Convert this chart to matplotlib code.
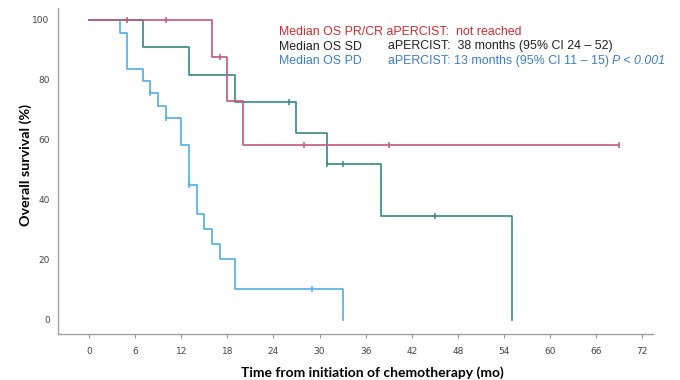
import numpy as np
import matplotlib
matplotlib.use("Agg")
import matplotlib.pyplot as plt

# Kaplan-Meier steps (months, % surviving)
pr_times = [0, 16, 18, 20]
pr_surv = [100, 87.5, 72.9, 58.3]
pr_end = 69
pr_cens = [5, 10, 17, 28, 39, 69]

sd_times = [0, 7, 13, 19, 27, 31, 38, 55]
sd_surv = [100, 90.9, 81.8, 72.7, 62.3, 52.0, 34.7, 0]
sd_end = 55
sd_cens = [26, 31, 33, 45]

pd_times = [0, 4, 5, 7, 8, 9, 10, 12, 13, 14, 15, 16, 17, 19, 33]
pd_surv = [100, 95.5, 83.6, 79.7, 75.6, 71.4, 67.3, 58.4, 45.0, 35.2, 30.2, 25.2, 20.2, 10.3, 0]
pd_end = 33
pd_cens = [8, 10, 13, 29]

xticks = list(range(0, 73, 6))
yticks = [0, 20, 40, 60, 80, 100]

col_pr = "#c4567f"
col_sd = "#348a86"
col_pd = "#4eaeea"

fig = plt.figure(figsize=(6.8, 3.8), dpi=100)
ax = fig.add_axes([0.0853, 0.121, 0.875, 0.858])


def km(times, surv, end, cens, color):
    t = list(times) + [end]
    s = list(surv) + [surv[-1]]
    ax.step(t, s, where="post", color=color, lw=1.2, zorder=3)
    idx = np.searchsorted(times, cens, side="right") - 1
    cy = [surv[i] for i in idx]
    ax.plot(cens, cy, ls="none", marker="|", ms=5, mew=1.1, color=color, zorder=4)


km(sd_times, sd_surv, sd_end, sd_cens, col_sd)
km(pd_times, pd_surv, pd_end, pd_cens, col_pd)
km(pr_times, pr_surv, pr_end, pr_cens, col_pr)

ax.set_xlim(-4.03, 73.4)
ax.set_ylim(-4.7, 104)
ax.set_xticks(xticks)
ax.set_yticks(yticks)
ax.tick_params(axis="x", length=3, color="#999999", labelsize=6.5, labelcolor="#444444", pad=6)
ax.tick_params(axis="y", length=0, labelsize=6.5, labelcolor="#444444", pad=6)
for side in ["top", "right"]:
    ax.spines[side].set_visible(False)
for side in ["left", "bottom"]:
    ax.spines[side].set_color("#a0a0a0")
    ax.spines[side].set_linewidth(1.0)

ax.set_xlabel("Time from initiation of chemotherapy (mo)", family="Lato",
              fontweight="bold", fontsize=10)
ax.xaxis.set_label_coords(0.529, -0.098)
ax.set_ylabel("Overall survival (%)", family="Lato", fontweight="bold",
              fontsize=10.3)
ax.yaxis.set_label_coords(-0.044, 0.518)

# annotation block
fs = 8.9
fam = "Liberation Sans"
x1 = 279 / 680
x2 = 388 / 680
rows = [1 - 32 / 380, 1 - 46.5 / 380, 1 - 61 / 380]
fig.text(x1, rows[0], "Median OS PR/CR aPERCIST:  not reached", color="#d42a30",
         fontsize=fs, family=fam, va="center")
fig.text(x1, rows[1], "Median OS SD", color="#222222", fontsize=fs, family=fam, va="center")
fig.text(x2, rows[1], "aPERCIST:  38 months (95% CI 24 \u2013 52)", color="#222222",
         fontsize=fs, family=fam, va="center")
fig.text(x1, rows[2], "Median OS PD", color="#3b7fcb", fontsize=fs, family=fam, va="center")
t3 = fig.text(x2, rows[2], "aPERCIST: 13 months (95% CI 11 \u2013 15) ", color="#3b7fcb",
              fontsize=fs, family=fam, va="center")
ax.annotate("P < 0.001", xy=(1, 0.5), xycoords=t3, va="center", ha="left",
            color="#3b7fcb", fontsize=fs, family=fam, style="italic")

fig.savefig("out.png", dpi=100)
